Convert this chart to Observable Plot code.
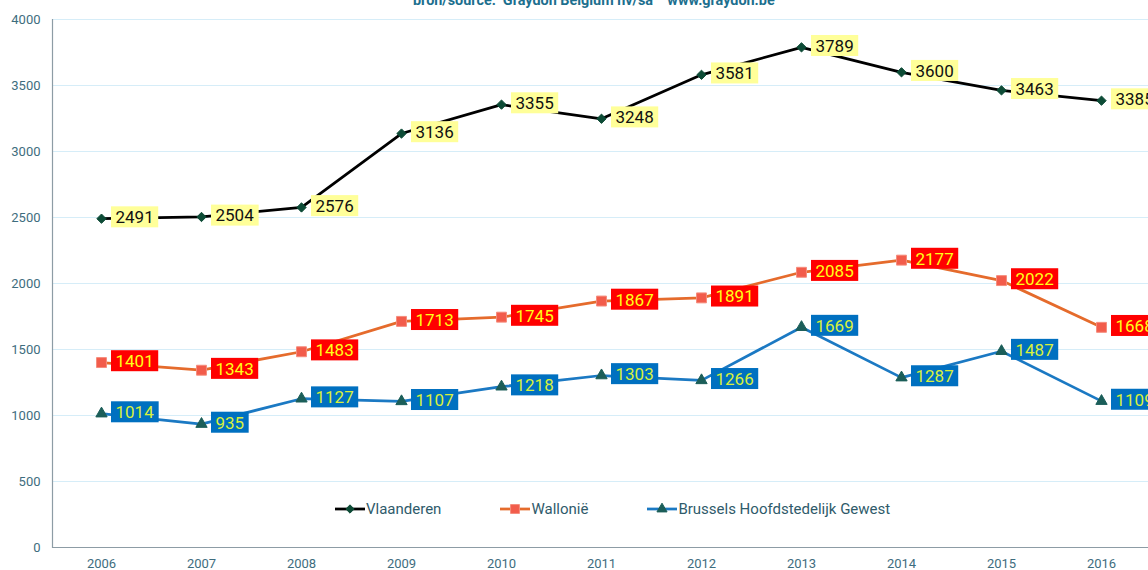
<!DOCTYPE html>
<html>
<head>
<meta charset="utf-8">
<script src="https://cdn.jsdelivr.net/npm/d3@7"></script>
<script src="https://cdn.jsdelivr.net/npm/@observablehq/plot@0.6"></script>
<style>
  html, body { margin: 0; padding: 0; background: #fff; overflow: hidden; }
  #wrap { position: relative; width: 1148px; height: 570px; font-family: Roboto, "Liberation Sans", sans-serif; }
  #title { position: absolute; top: -6px; left: 413px; font-size: 14.4px; line-height: 14px; font-weight: bold; color: #1d6f8e; white-space: pre; }
  #legend { position: absolute; top: 500px; left: 335px; display: flex; align-items: center; font-size: 15px; color: #2f5b6b; }
  #legend .item { display: flex; align-items: center; margin-right: 59px; }
  #legend svg { display: block; margin-right: 1px; }
</style>
</head>
<body>
<div id="wrap">
  <div id="chart"></div>
  <div id="title">bron/source:  Graydon Belgium nv/sa    www.graydon.be</div>
  <div id="legend"></div>
</div>
<script>
// ---- data ----
const years = [2006, 2007, 2008, 2009, 2010, 2011, 2012, 2013, 2014, 2015, 2016];
const vlaanderen = [2491, 2504, 2576, 3136, 3355, 3248, 3581, 3789, 3600, 3463, 3385];
const wallonie   = [1401, 1343, 1483, 1713, 1745, 1867, 1891, 2085, 2177, 2022, 1668];
const brussels   = [1014,  935, 1127, 1107, 1218, 1303, 1266, 1669, 1287, 1487, 1109];
const seriesNames = ["Vlaanderen", "Wallonië", "Brussels Hoofdstedelijk Gewest"];
const yTicks = [0, 500, 1000, 1500, 2000, 2500, 3000, 3500, 4000];

// ---- styles ----
const styles = {
  "Vlaanderen": {line: "#000000", symbol: "diamond2", r: 4.2, fill: "#0d4b36", stroke: "#0d4b36", box: "#ffff99", text: "#111111", cls: "lbl-v"},
  "Wallonië": {line: "#e56b2c", symbol: "square", r: 5.6, fill: "#f25c4b", stroke: "#f58c7c", box: "#ff0000", text: "#ffff1a", cls: "lbl-w"},
  "Brussels Hoofdstedelijk Gewest": {line: "#1b79c3", symbol: "triangle", r: 4.2, fill: "#1b5e59", stroke: "#1b5e59", box: "#0070c0", text: "#d8f03c", cls: "lbl-b"}
};
const values = [vlaanderen, wallonie, brussels];
const rows = seriesNames.map((name, i) => years.map((year, j) => ({series: name, year, value: values[i][j]})));

const marks = [
  Plot.gridY(yTicks, {stroke: "#d6edf8", strokeOpacity: 1, strokeWidth: 1}),
  Plot.axisY(yTicks, {tickSize: 0, tickPadding: 12, fontSize: 13, fill: "#3e6d7e", label: null, tickFormat: d => String(d)}),
  Plot.axisX(years, {tickSize: 0, tickPadding: 11, fontSize: 13, fill: "#3e6d7e", label: null, tickFormat: d => String(d)}),
  Plot.ruleY([0], {stroke: "#8d9ca5", strokeWidth: 1.2}),
  Plot.frame({anchor: "left", stroke: "#8d9ca5", strokeWidth: 1.2})
];
rows.forEach((data, i) => {
  const s = styles[seriesNames[i]];
  marks.push(Plot.line(data, {x: "year", y: "value", stroke: s.line, strokeWidth: 2.75}));
});
rows.forEach((data, i) => {
  const s = styles[seriesNames[i]];
  marks.push(Plot.dot(data, {x: "year", y: "value", symbol: () => s.symbol, r: s.r, fill: s.fill, stroke: s.stroke, strokeWidth: 1}));
});
rows.forEach((data, i) => {
  const s = styles[seriesNames[i]];
  marks.push(Plot.text(data, {x: "year", y: "value", text: d => String(d.value), textAnchor: "start", dx: 14, dy: -1, fontSize: 17, fill: s.text, className: s.cls}));
});

const chart = Plot.plot({
  width: 1148,
  height: 570,
  marginLeft: 52,
  marginRight: 0,
  marginTop: 19,
  marginBottom: 23,
  style: {fontFamily: "Roboto, 'Liberation Sans', sans-serif", background: "white", overflow: "hidden"},
  x: {type: "point", domain: years, range: [101, 1101], padding: 0},
  y: {domain: [0, 4000]},
  marks
});
document.getElementById("chart").appendChild(chart);

// label background boxes
const ns = "http://www.w3.org/2000/svg";
seriesNames.forEach(name => {
  const s = styles[name];
  chart.querySelectorAll("g." + s.cls + " text").forEach(t => {
    const b = t.getBBox();
    const r = document.createElementNS(ns, "rect");
    r.setAttribute("x", b.x - 4.5);
    r.setAttribute("y", b.y + b.height / 2 - 10.8);
    r.setAttribute("width", b.width + 9);
    r.setAttribute("height", 21);
    r.setAttribute("fill", s.box);
    const tr = t.getAttribute("transform");
    if (tr) r.setAttribute("transform", tr);
    t.parentNode.insertBefore(r, t);
  });
});

// legend
const legend = document.getElementById("legend");
seriesNames.forEach(name => {
  const s = styles[name];
  const item = document.createElement("div");
  item.className = "item";
  const sym = d3.symbol(s.symbol === "diamond2" ? d3.symbolDiamond2 : s.symbol === "square" ? d3.symbolSquare : d3.symbolTriangle, Math.PI * s.r * s.r * 0.8)();
  item.innerHTML = `<svg width="30" height="14"><line x1="0" x2="30" y1="7" y2="7" stroke="${s.line}" stroke-width="2.75"/><path transform="translate(15,7)" d="${sym}" fill="${s.fill}" stroke="${s.stroke}"/></svg><span>${name}</span>`;
  legend.appendChild(item);
});
</script>
</body>
</html>
